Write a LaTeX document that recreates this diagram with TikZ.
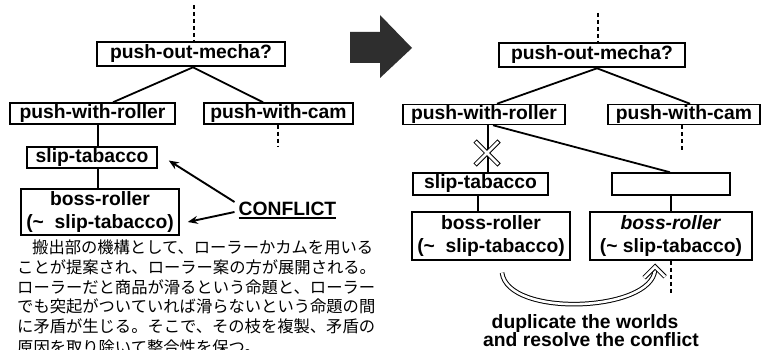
\documentclass[tikz,border=0pt]{standalone}
\usepackage{fontspec}
\setmainfont{Liberation Sans}
\newfontfamily\jp{Noto Sans CJK JP}
\usetikzlibrary{arrows.meta,calc}
\begin{document}
\begin{tikzpicture}[x=1pt,y=-1pt,
 box/.style={draw, line width=1.5pt, inner sep=0pt, font=\fontsize{19.3}{23}\selectfont\bfseries, align=center},
 topbox/.style={box, line width=2.6pt},
 link/.style={line width=1.8pt},
 stem/.style={line width=1.1pt},
 dashline/.style={line width=1.1pt, dash pattern=on 4pt off 3pt},
 jpline/.style={anchor=base west, inner sep=0pt, font=\jp\fontsize{16.3}{19}\selectfont},
 lbl/.style={inner sep=0pt, font=\fontsize{19.3}{22}\selectfont\bfseries},
 conflictarrow/.style={line width=1.9pt, -{Stealth[length=10pt,width=8pt]}},
 dbl/.style={double, double distance=2.6pt, line width=1pt}
]
\clip (0,0) rectangle (761,350);
\fill[white] (0,0) rectangle (761,350);

% ---------- left tree ----------
\node[topbox, minimum width=188pt, minimum height=24pt] (pom1) at (191,54) {push-out-mecha?};
\node[box, minimum width=165pt, minimum height=21pt] (pwr1) at (92.5,113.5) {push-with-roller};
\node[box, minimum width=149pt, minimum height=21pt] (pwc1) at (278.5,113.5) {push-with-cam};
\node[box, minimum width=130pt, minimum height=21pt] (st1) at (92,157.5) {slip-tabacco};
\node[box, minimum width=158pt, minimum height=46pt] (br1) at (100,212) {boss-roller\\(\textasciitilde\ \ slip-tabacco)};

\coordinate (t1) at (194,5);
\draw[dashline] (t1) -- (t1 |- pom1.north);
\draw[link] ($(pom1.south)+(2,0)$) -- ($(pwr1.north)+(20.5,0)$);
\draw[link] ($(pom1.south)+(2,0)$) -- ($(pwc1.north)+(-15.5,0)$);
\coordinate (d1) at (278,147);
\draw[dashline] ($(pwc1.south)+(-0.5,0)$) -- (d1);
\draw[stem] ($(pwr1.south)+(5.5,0)$) -- ($(st1.north)+(6,0)$);
\draw[stem] ($(st1.south)+(6,0)$) -- ($(br1.north)+(-2,0)$);

\node[lbl, inner ysep=2pt] (conf) at (287.5,209) {CONFLICT};
\draw[line width=1.4pt] (conf.south west) -- (conf.south east);
\draw[conflictarrow] ($(conf.west)+(-4,-7)$) -- ($(st1.east)+(11,3)$);
\draw[conflictarrow] ($(conf.west)+(-4,3)$) -- ($(br1.east)+(8,10)$);

% Japanese text
\node[jpline] (j1) at (32,254) {搬出部の機構として、ローラーかカムを用いる};
\node[jpline] (j2) at (17,273.6) {ことが提案され、ローラー案の方が展開される。};
\node[jpline] (j3) at (17,293.2) {ローラーだと商品が滑るという命題と、ローラー};
\node[jpline] (j4) at (17,312.8) {でも突起がついていれば滑らないという命題の間};
\node[jpline] (j5) at (17,332.4) {に矛盾が生じる。そこで、その枝を複製、矛盾の};
\node[jpline] (j6) at (17,353) {原因を取り除いて整合性を保つ。};

% ---------- big arrow ----------
\fill[black!82] (350,32) -- (380,32) -- (380,15) -- (412,48) -- (380,78) -- (380,63) -- (350,63) -- cycle;

% ---------- right tree ----------
\node[topbox, minimum width=186pt, minimum height=24pt] (pom2) at (592,55) {push-out-mecha?};
\node[box, minimum width=162pt, minimum height=20pt] (pwr2) at (484,114.5) {push-with-roller};
\node[box, minimum width=152pt, minimum height=20pt] (pwc2) at (684,114.5) {push-with-cam};
\node[box, minimum width=135pt, minimum height=22pt] (st2) at (480.5,184) {slip-tabacco};
\node[box, minimum width=118pt, minimum height=22pt] (emp) at (671,184) {};
\node[box, minimum width=158pt, minimum height=48pt] (br2a) at (491,236) {boss-roller\\(\textasciitilde\ \ slip-tabacco)};
\node[box, minimum width=162pt, minimum height=48pt] (br2b) at (671,236) {\textit{boss-roller}\\(\textasciitilde\ slip-tabacco)};

\coordinate (t2) at (598,13);
\draw[dashline] (t2) -- (t2 |- pom2.north);
\draw[link] ($(pom2.south)+(5,0)$) -- ($(pwr2.north)+(13,0)$);
\draw[link] ($(pom2.south)+(5,0)$) -- ($(pwc2.north)+(6,0)$);
\coordinate (d2) at (682,152);
\draw[dashline] ($(pwc2.south)+(-2,0)$) -- (d2);
\draw[stem] ($(pwr2.south)+(4,0)$) -- ($(st2.north)+(7.5,0)$);
\draw[link] ($(pwr2.south)+(9,0)$) -- ($(emp.north)+(-1,0)$);
\draw[stem] ($(st2.south)+(-2.5,0)$) -- ($(br2a.north)+(-13,0)$);
\draw[stem] (emp.south) -- (br2b.north);
\coordinate (d3) at (671,295);
\draw[dashline] (br2b.south) -- (d3);

% cross mark
\coordinate (xm) at (487,153);
\draw[line width=4.6pt] ($(xm)+(-12,-12)$) -- ($(xm)+(12,12)$) ($(xm)+(12,-12)$) -- ($(xm)+(-12,12)$);
\draw[white, line width=2.6pt] ($(xm)+(-11.3,-11.3)$) -- ($(xm)+(11.3,11.3)$) ($(xm)+(11.3,-11.3)$) -- ($(xm)+(-11.3,11.3)$);

% curved double arrow with hollow chevron head
\coordinate (cs) at ($(br2a.south)+(11,12)$);
\coordinate (ce) at ($(br2b.south)+(-16,9)$);
\draw[dbl] (cs) .. controls (508,318) and (652,312) .. (ce);
\draw[dbl, line join=miter] ($(ce)+(-11,8)$) -- ($(ce)+(0,-3)$) -- ($(ce)+(10,7)$);

\node[lbl, anchor=base] (dup1) at (585,328) {duplicate the worlds};
\node[lbl, anchor=base] (dup2) at (591,346) {and resolve the conflict};
\end{tikzpicture}
\end{document}
